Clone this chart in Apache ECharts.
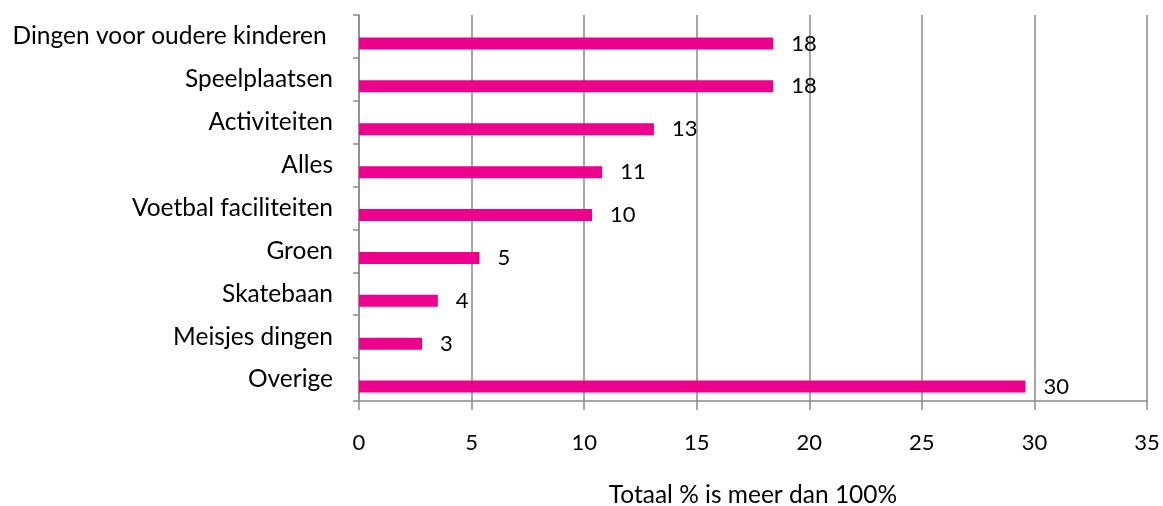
<!DOCTYPE html>
<html>
<head>
<meta charset="utf-8">
<script src="https://cdn.jsdelivr.net/npm/echarts@6/dist/echarts.min.js"></script>
<style>html,body{margin:0;padding:0;background:#fff}#c{width:1163px;height:506px}</style>
</head>
<body>
<div id="c"></div>
<script>
const categories = ["Dingen voor oudere kinderen ", "Speelplaatsen", "Activiteiten", "Alles", "Voetbal faciliteiten", "Groen", "Skatebaan", "Meisjes dingen", "Overige"];
const values = [18.4, 18.4, 13.1, 10.8, 10.35, 5.35, 3.5, 2.8, 29.6];
const xTitle = "Totaal % is meer dan 100%";
const xMin = 0, xMax = 35, xStep = 5;

const chart = echarts.init(document.getElementById('c'));
const font = 'Lato';
const axisColor = '#8a8a8a';
chart.setOption({
  animation: false,
  grid: {left: 359, right: 16, top: 15, bottom: 105, outerBoundsMode: 'none', containLabel: false},
  xAxis: {
    type: 'value', min: xMin, max: xMax, interval: xStep,
    axisLine: {show: true, lineStyle: {color: axisColor, width: 1.5}},
    axisTick: {show: true, length: 9, lineStyle: {color: axisColor, width: 1.5}},
    splitLine: {show: true, lineStyle: {color: axisColor, width: 1.5}},
    axisLabel: {color: '#000', fontFamily: font, fontSize: 22, margin: 31},
    name: xTitle, nameLocation: 'middle', nameGap: 82,
    nameTextStyle: {color: '#000', fontFamily: font, fontSize: 24.5}
  },
  yAxis: {
    type: 'category', data: categories, inverse: true,
    axisLine: {show: true, lineStyle: {color: axisColor, width: 1.5}},
    axisTick: {show: true, length: 6, lineStyle: {color: axisColor, width: 1.5}},
    axisLabel: {color: '#000', fontFamily: font, fontSize: 24.5, margin: 26}
  },
  series: [
    {type: 'bar', data: values.map(() => null), barWidth: 12, barGap: '17%'},
    {type: 'bar', data: values, barWidth: 12, barGap: '17%',
     itemStyle: {color: '#ec008c'},
     label: {show: true, position: 'right', distance: 18, color: '#000', fontFamily: font, fontSize: 22,
             formatter: p => Math.round(p.value)}}
  ]
});
</script>
</body>
</html>
